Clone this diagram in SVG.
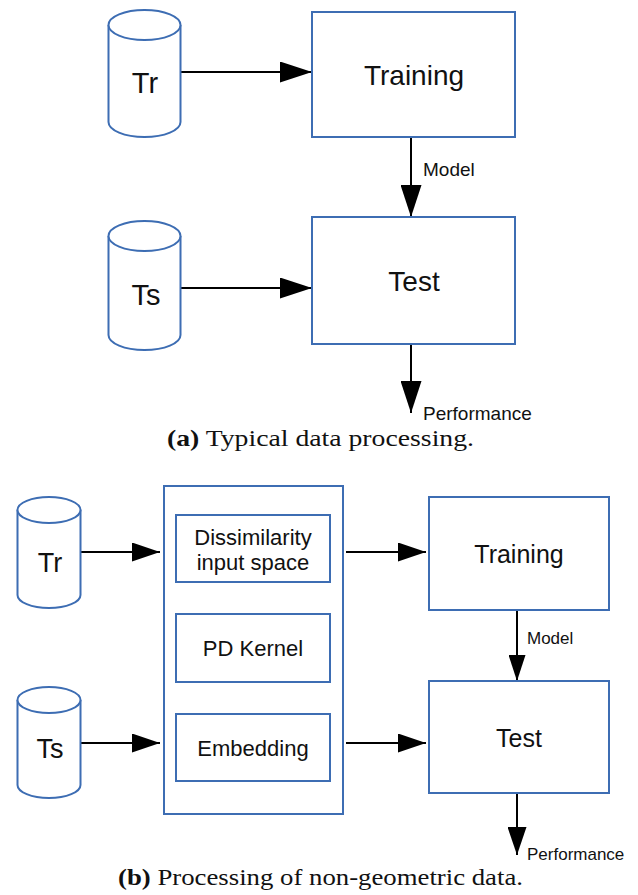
<svg xmlns="http://www.w3.org/2000/svg" width="638" height="895" viewBox="0 0 638 895">
<style>
.box{fill:#fff;stroke:#3d6db3;stroke-width:2}
.cyl{fill:#fff;stroke:#3d6db3;stroke-width:2}
.t{font-family:"Liberation Sans",Arial,sans-serif;fill:#111;text-anchor:middle}
.lbl{font-family:"Liberation Sans",Arial,sans-serif;fill:#111}
.cap{font-family:"Liberation Serif","Times New Roman",serif;fill:#111;font-size:23px}
.ln{stroke:#000;stroke-width:2;fill:none}
</style>
<defs>
<marker id="ahA" markerUnits="userSpaceOnUse" markerWidth="32" markerHeight="21" refX="32" refY="10.5" orient="auto"><path d="M0,0 L32,10.5 L0,21 z" fill="#000"/></marker>
<marker id="ahB" markerUnits="userSpaceOnUse" markerWidth="28" markerHeight="19" refX="28" refY="9.5" orient="auto"><path d="M0,0 L28,9.5 L0,19 z" fill="#000"/></marker>
<marker id="ahC" markerUnits="userSpaceOnUse" markerWidth="26" markerHeight="17" refX="26" refY="8.5" orient="auto"><path d="M0,0 L26,8.5 L0,17 z" fill="#000"/></marker>
</defs>
<rect width="638" height="895" fill="#fff"/>

<g id="connectors">
<line class="ln" x1="181" y1="72" x2="312" y2="72" marker-end="url(#ahA)"/>
<line class="ln" x1="181" y1="288" x2="312" y2="288" marker-end="url(#ahA)"/>
<line class="ln" x1="411" y1="137" x2="411" y2="217" marker-end="url(#ahA)"/>
<line class="ln" x1="411" y1="344" x2="411" y2="413" marker-end="url(#ahA)"/>
<text class="lbl" x="423" y="176" font-size="19">Model</text>
<text class="lbl" x="423" y="420" font-size="19">Performance</text>

<line class="ln" x1="81" y1="552" x2="160" y2="552" marker-end="url(#ahB)"/>
<line class="ln" x1="81" y1="743" x2="160" y2="743" marker-end="url(#ahB)"/>
<line class="ln" x1="346" y1="552" x2="426" y2="552" marker-end="url(#ahB)"/>
<line class="ln" x1="346" y1="743" x2="426" y2="743" marker-end="url(#ahB)"/>
<line class="ln" x1="517" y1="610" x2="517" y2="681" marker-end="url(#ahC)"/>
<line class="ln" x1="517" y1="793" x2="517" y2="855" marker-end="url(#ahB)"/>
<text class="lbl" x="527" y="644" font-size="17">Model</text>
<text class="lbl" x="527" y="860" font-size="17">Performance</text>
</g>

<g id="a-tr">
<path class="cyl" d="M108.5,25 L108.5,122 A36,15 0 0 0 180.5,122 L180.5,25"/>
<ellipse class="cyl" cx="144.5" cy="25" rx="36" ry="15"/>
<text class="t" x="145" y="93" font-size="29">Tr</text>
</g>
<g id="a-ts">
<path class="cyl" d="M108.5,236 L108.5,335 A36,15 0 0 0 180.5,335 L180.5,236"/>
<ellipse class="cyl" cx="144.5" cy="236" rx="36" ry="15"/>
<text class="t" x="146" y="305" font-size="29">Ts</text>
</g>
<g id="a-training">
<rect class="box" x="312" y="12" width="203" height="125"/>
<text class="t" x="414" y="85" font-size="28">Training</text>
</g>
<g id="a-test">
<rect class="box" x="312" y="217" width="203" height="127"/>
<text class="t" x="414" y="291" font-size="28">Test</text>
</g>
<g id="caption-a">
<text class="cap" x="167" y="446" textLength="307" lengthAdjust="spacingAndGlyphs"><tspan font-weight="bold">(a)</tspan> Typical data processing.</text>
</g>

<g id="b-tr">
<path class="cyl" d="M17.5,510 L17.5,595 A31.5,13 0 0 0 80.5,595 L80.5,510"/>
<ellipse class="cyl" cx="49" cy="510" rx="31.5" ry="13"/>
<text class="t" x="50" y="572" font-size="27">Tr</text>
</g>
<g id="b-ts">
<path class="cyl" d="M17.5,700 L17.5,785 A31.5,13 0 0 0 80.5,785 L80.5,700"/>
<ellipse class="cyl" cx="49" cy="700" rx="31.5" ry="13"/>
<text class="t" x="50" y="758" font-size="27">Ts</text>
</g>
<g id="b-container">
<rect class="box" x="164" y="486" width="179" height="328"/>
</g>
<g id="b-dissimilarity">
<rect class="box" x="176" y="515" width="154" height="67"/>
<text class="t" x="253" y="545" font-size="22">Dissimilarity</text>
<text class="t" x="253" y="570" font-size="22">input space</text>
</g>
<g id="b-pdkernel">
<rect class="box" x="176" y="614" width="154" height="68"/>
<text class="t" x="253" y="656" font-size="22">PD Kernel</text>
</g>
<g id="b-embedding">
<rect class="box" x="176" y="714" width="154" height="67"/>
<text class="t" x="253" y="756" font-size="22">Embedding</text>
</g>
<g id="b-training">
<rect class="box" x="429" y="497" width="180" height="113"/>
<text class="t" x="519" y="563" font-size="25">Training</text>
</g>
<g id="b-test">
<rect class="box" x="429" y="681" width="180" height="112"/>
<text class="t" x="519" y="747" font-size="25">Test</text>
</g>
<g id="caption-b">
<text class="cap" x="118" y="885" textLength="405" lengthAdjust="spacingAndGlyphs"><tspan font-weight="bold">(b)</tspan> Processing of non-geometric data.</text>
</g>
</svg>
